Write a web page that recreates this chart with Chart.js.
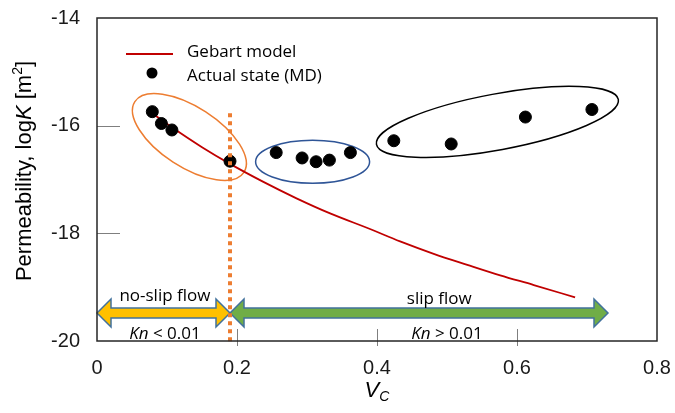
<!DOCTYPE html>
<html lang="en">
<head>
    <meta charset="UTF-8">
    <title>Permeability vs Vc</title>
    <script src="https://cdn.jsdelivr.net/npm/chart.js@4.4.0/dist/chart.umd.min.js"></script>
    <style>
        * { margin: 0; padding: 0; box-sizing: border-box; }
        body { background: #ffffff; width: 675px; height: 413px; overflow: hidden; }
        #wrap { position: relative; width: 675px; height: 413px; }
    </style>
</head>
<body>
    <div id="wrap">
        <canvas id="permChart" width="675" height="413"></canvas>
    </div>

    <script>
        // Gebart model curve
        const gebartV = [0.079, 0.107, 0.15, 0.19, 0.237, 0.285, 0.333, 0.39, 0.433, 0.481, 0.529, 0.576, 0.624, 0.683];
        const gebartLogK = [-15.77, -16.03, -16.40, -16.71, -17.04, -17.35, -17.63, -17.92, -18.15, -18.38, -18.585, -18.78, -18.96, -19.19];

        // Actual state (MD)
        const mdV = [0.079, 0.092, 0.107, 0.19, 0.256, 0.293, 0.313, 0.332, 0.362, 0.424, 0.506, 0.612, 0.707];
        const mdLogK = [-15.74, -15.96, -16.08, -16.66, -16.50, -16.60, -16.67, -16.64, -16.50, -16.28, -16.34, -15.84, -15.70];

        // boundary between no-slip and slip flow
        const boundaryV = [0.19, 0.19];
        const boundaryLogK = [-15.77, -20.05];

        const xTicks = [0, 0.2, 0.4, 0.6, 0.8];
        const yTicks = [-20, -18, -16, -14];
        const xInnerTicks = [0.2, 0.4, 0.6];
        const yInnerTicks = [-16, -18];

        const legendLabels = ['Gebart model', 'Actual state (MD)'];
        const arrowLabels = ['no-slip flow', 'slip flow'];
        const knLabels = [' < 0.01', ' > 0.01'];

        const toPoints = (xs, ys) => xs.map((x, i) => ({ x: x, y: ys[i] }));

        const AXIS_FONT = "'Liberation Sans', Arial, sans-serif";
        const NOTE_FONT = "'Open Sans', 'Liberation Sans', sans-serif";

        // ellipses around groups of points (centre in data units, radii in px)
        const groupRings = [
            { v: 0.132, k: -16.21, rx: 65, ry: 30, rot: 33, color: '#ed7d31' },
            { v: 0.308, k: -16.67, rx: 57, ry: 21.5, rot: 0, color: '#2f5597' },
            { v: 0.572, k: -15.93, rx: 123, ry: 28, rot: -10.5, color: '#000000' }
        ];

        function doubleArrow(ctx, x1, x2, y, fill) {
            const sh = 5, hh = 14, hl = 14;
            ctx.beginPath();
            ctx.moveTo(x1, y);
            ctx.lineTo(x1 + hl, y - hh);
            ctx.lineTo(x1 + hl, y - sh);
            ctx.lineTo(x2 - hl, y - sh);
            ctx.lineTo(x2 - hl, y - hh);
            ctx.lineTo(x2, y);
            ctx.lineTo(x2 - hl, y + hh);
            ctx.lineTo(x2 - hl, y + sh);
            ctx.lineTo(x1 + hl, y + sh);
            ctx.lineTo(x1 + hl, y + hh);
            ctx.closePath();
            ctx.fillStyle = fill;
            ctx.fill();
            ctx.lineWidth = 1.5;
            ctx.strokeStyle = '#41719c';
            ctx.stroke();
        }

        function knText(ctx, cx, y, rest) {
            ctx.font = 'italic 17px ' + NOTE_FONT;
            const w1 = ctx.measureText('Kn').width;
            ctx.font = '17px ' + NOTE_FONT;
            const w2 = ctx.measureText(rest).width;
            let x = cx - (w1 + w2) / 2;
            ctx.textAlign = 'left';
            ctx.font = 'italic 17px ' + NOTE_FONT;
            ctx.fillText('Kn', x, y);
            ctx.font = '17px ' + NOTE_FONT;
            ctx.fillText(rest, x + w1, y);
        }

        const decorPlugin = {
            id: 'decor',
            beforeDatasetsDraw(chart) {
                const ctx = chart.ctx;
                const xs = chart.scales.x, ys = chart.scales.y;
                ctx.save();

                // group ellipses
                groupRings.forEach(r => {
                    ctx.beginPath();
                    ctx.ellipse(xs.getPixelForValue(r.v), ys.getPixelForValue(r.k), r.rx, r.ry, r.rot * Math.PI / 180, 0, Math.PI * 2);
                    ctx.lineWidth = 1.5;
                    ctx.strokeStyle = r.color;
                    ctx.stroke();
                });

                // flow regime arrows
                const ay = ys.getPixelForValue(-19.48);
                const xb = xs.getPixelForValue(boundaryV[0]);
                doubleArrow(ctx, xs.getPixelForValue(0), xb, ay, '#ffc000');
                doubleArrow(ctx, xb, xs.getPixelForValue(0.73), ay, '#70ad47');

                ctx.fillStyle = '#000';
                ctx.textBaseline = 'alphabetic';
                ctx.textAlign = 'center';
                ctx.font = '17px ' + NOTE_FONT;
                ctx.fillText(arrowLabels[0], xs.getPixelForValue(0.097), ay - 12);
                ctx.fillText(arrowLabels[1], xs.getPixelForValue(0.489), ay - 9);
                knText(ctx, xs.getPixelForValue(0.097), ay + 26, knLabels[0]);
                knText(ctx, xs.getPixelForValue(0.5), ay + 26, knLabels[1]);
                ctx.restore();
            },
            afterDraw(chart) {
                const ctx = chart.ctx;
                const a = chart.chartArea;
                const xs = chart.scales.x, ys = chart.scales.y;
                ctx.save();

                // inner tick marks
                ctx.strokeStyle = '#7f7f7f';
                ctx.lineWidth = 1;
                yInnerTicks.forEach(v => {
                    const y = Math.round(ys.getPixelForValue(v)) + 0.5;
                    ctx.beginPath();
                    ctx.moveTo(a.left, y);
                    ctx.lineTo(a.left + 23, y);
                    ctx.stroke();
                });
                xInnerTicks.forEach(v => {
                    const x = Math.round(xs.getPixelForValue(v)) + 0.5;
                    ctx.beginPath();
                    ctx.moveTo(x, a.bottom - 12);
                    ctx.lineTo(x, a.bottom + 5);
                    ctx.stroke();
                });

                // plot frame
                ctx.strokeStyle = '#262626';
                ctx.lineWidth = 1.5;
                ctx.strokeRect(a.left, a.top, a.right - a.left, a.bottom - a.top);

                // legend
                ctx.strokeStyle = '#c00000';
                ctx.lineWidth = 1.8;
                ctx.beginPath();
                ctx.moveTo(126, 54);
                ctx.lineTo(173, 54);
                ctx.stroke();
                ctx.fillStyle = '#000';
                ctx.beginPath();
                ctx.arc(152, 73, 5.5, 0, Math.PI * 2);
                ctx.fill();
                ctx.font = '17px ' + NOTE_FONT;
                ctx.textAlign = 'left';
                ctx.textBaseline = 'alphabetic';
                ctx.fillText(legendLabels[0], 187, 57);
                ctx.fillText(legendLabels[1], 187, 81);

                // y axis title: Permeability, logK [m2]
                ctx.translate(31, 171);
                ctx.rotate(-Math.PI / 2);
                const parts = [
                    { t: 'Permeability, log', f: '22px ' + AXIS_FONT, dy: 0 },
                    { t: 'K', f: 'italic 22px ' + AXIS_FONT, dy: 0 },
                    { t: ' [m', f: '22px ' + AXIS_FONT, dy: 0 },
                    { t: '2', f: '14px ' + AXIS_FONT, dy: -9 },
                    { t: ']', f: '22px ' + AXIS_FONT, dy: 0 }
                ];
                let total = 0;
                parts.forEach(p => { ctx.font = p.f; p.w = ctx.measureText(p.t).width; total += p.w; });
                let px = -total / 2;
                ctx.fillStyle = '#000';
                parts.forEach(p => { ctx.font = p.f; ctx.fillText(p.t, px, p.dy); px += p.w; });
                ctx.setTransform(1, 0, 0, 1, 0, 0);

                // x axis title: V_C
                ctx.font = 'italic 22px ' + AXIS_FONT;
                const wv = ctx.measureText('V').width;
                ctx.font = 'italic 14px ' + AXIS_FONT;
                const wc = ctx.measureText('C').width;
                const cx = (a.left + a.right) / 2 - (wv + wc) / 2;
                ctx.font = 'italic 22px ' + AXIS_FONT;
                ctx.fillText('V', cx, 397);
                ctx.font = 'italic 14px ' + AXIS_FONT;
                ctx.fillText('C', cx + wv, 401);
                ctx.restore();
            }
        };

        const ctx = document.getElementById('permChart').getContext('2d');
        const chart = new Chart(ctx, {
            type: 'scatter',
            data: {
                datasets: [
                    {
                        label: 'boundary',
                        type: 'line',
                        data: toPoints(boundaryV, boundaryLogK),
                        borderColor: '#ed7d31',
                        borderWidth: 4,
                        borderDash: [4, 4],
                        pointRadius: 0,
                        clip: false
                    },
                    {
                        label: legendLabels[1],
                        data: toPoints(mdV, mdLogK),
                        backgroundColor: '#000000',
                        borderColor: '#000000',
                        pointRadius: 6,
                        pointHoverRadius: 6
                    },
                    {
                        label: legendLabels[0],
                        type: 'line',
                        data: toPoints(gebartV, gebartLogK),
                        borderColor: '#c00000',
                        borderWidth: 1.8,
                        pointRadius: 0,
                        cubicInterpolationMode: 'monotone',
                        fill: false
                    }
                ]
            },
            options: {
                responsive: false,
                animation: false,
                devicePixelRatio: 1,
                layout: { padding: { top: 18, right: 18, left: 0, bottom: 0 } },
                plugins: {
                    legend: { display: false },
                    tooltip: { enabled: false }
                },
                scales: {
                    x: {
                        type: 'linear',
                        min: xTicks[0],
                        max: xTicks[xTicks.length - 1],
                        afterBuildTicks: s => { s.ticks = xTicks.map(v => ({ value: v })); },
                        afterFit: s => { s.height = 72; s.paddingLeft = 0; s.paddingRight = 0; },
                        grid: { display: false, drawTicks: false },
                        border: { display: false },
                        ticks: {
                            padding: 15,
                            color: '#1a1a1a',
                            font: { family: AXIS_FONT, size: 20 },
                            maxRotation: 0,
                            callback: v => String(v)
                        }
                    },
                    y: {
                        type: 'linear',
                        min: yTicks[0],
                        max: yTicks[yTicks.length - 1],
                        afterBuildTicks: s => { s.ticks = yTicks.map(v => ({ value: v })); },
                        afterFit: s => { s.width = 97; s.paddingTop = 0; s.paddingBottom = 0; },
                        grid: { display: false, drawTicks: false },
                        border: { display: false },
                        ticks: {
                            padding: 17,
                            color: '#1a1a1a',
                            font: { family: AXIS_FONT, size: 20 },
                            callback: v => String(v)
                        }
                    }
                }
            },
            plugins: [decorPlugin]
        });
    </script>
</body>
</html>
